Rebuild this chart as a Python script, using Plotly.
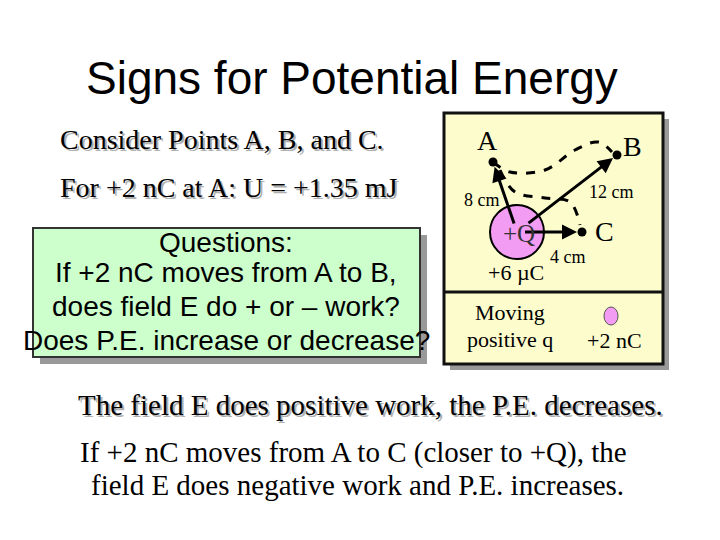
import plotly.graph_objects as go

title = "Signs for Potential Energy"
left_lines = ["Consider Points A, B, and C.", "For +2 nC at A: U = +1.35 mJ"]
question_lines = ["Questions:", "If +2 nC moves from A to B,", "does field E do + or \u2013 work?", "Does P.E. increase or decrease?"]
bottom_lines = ["The field E does positive work, the P.E. decreases.",
                "If +2 nC moves from A to C (closer to +Q), the",
                "field E does negative work and P.E. increases."]
point_names = ["A", "B", "C"]
dist_labels = ["8 cm", "12 cm", "4 cm"]
charge_label = "+6 \u00b5C"

fig = go.Figure()
shapes = []
ann = []
TNR = "Liberation Serif"
AR = "Liberation Sans"
K = 1.27

def rect(x0, y0, x1, y1, fill, line="#222", w=2):
    shapes.append(dict(type="rect", xref="x", yref="y", x0=x0, y0=y0, x1=x1, y1=y1,
                       fillcolor=fill, line=dict(color=line, width=w), layer="below"))

def text(x, y, s, size, font=TNR, anchor="center", color="black", shadow=False):
    size = round(size * K)
    if shadow:
        ann.append(dict(x=x+2, y=y+2, text=s, showarrow=False, xanchor=anchor, yanchor="middle",
                        font=dict(family=font, size=size, color="#b0b0b0")))
    ann.append(dict(x=x, y=y, text=s, showarrow=False, xanchor=anchor, yanchor="middle",
                    font=dict(family=font, size=size, color=color)))

text(352, 78, title, 36, AR)
text(58, 139, left_lines[0], 22, anchor="left", shadow=True)
text(58, 187, left_lines[1], 22, anchor="left", shadow=True)

rect(40, 235, 427, 364, "#999999", line="#999999", w=0)
rect(33, 228, 420, 357, "#ccffcc", line="#333333")
for yy, s in zip([242, 272, 306, 340], question_lines):
    text(226, yy, s, 22, AR)

rect(450, 119, 669, 370, "#999999", line="#999999", w=0)
rect(444, 113, 663, 364, "#fcfccc", line="#111111", w=3)
shapes.append(dict(type="line", xref="x", yref="y", x0=444, x1=663, y0=292, y1=292,
                   line=dict(color="#111", width=3)))

fig.add_trace(go.Scatter(x=[493, 510, 545, 575, 598, 612], y=[162, 172, 170, 150, 142, 152],
                         mode="lines", line=dict(color="black", width=3, dash="dash", shape="spline"),
                         hoverinfo="skip"))
fig.add_trace(go.Scatter(x=[500, 515, 545, 570, 580], y=[170, 192, 198, 202, 225],
                         mode="lines", line=dict(color="black", width=3, dash="dash", shape="spline"),
                         hoverinfo="skip"))

shapes.append(dict(type="circle", xref="x", yref="y", x0=490, x1=544, y0=205, y1=259,
                   fillcolor="#f39cf3", line=dict(color="black", width=2)))
shapes.append(dict(type="circle", xref="x", yref="y", x0=604, x1=618, y0=307, y1=325,
                   fillcolor="#f39cf3", line=dict(color="#555", width=1)))

Q = (517, 232)
pts = [(493, 162), (617, 155), (582, 232)]
for (px, py) in pts:
    ann.append(dict(x=px, y=py, ax=Q[0] + (px - Q[0]) * 0.1, ay=Q[1] + (py - Q[1]) * 0.1,
                    axref="x", ayref="y", xref="x", yref="y", text="", showarrow=True,
                    arrowhead=2, arrowsize=1, arrowwidth=3, arrowcolor="black", standoff=5))
fig.add_trace(go.Scatter(x=[p[0] for p in pts], y=[p[1] for p in pts], mode="markers",
                         marker=dict(color="black", size=9), hoverinfo="skip"))

text(487, 140, point_names[0], 22)
text(632, 146, point_names[1], 22)
text(604, 231, point_names[2], 22)
text(482, 200, dist_labels[0], 14)
text(611, 192, dist_labels[1], 14)
text(568, 257, dist_labels[2], 14)
text(519, 233, "+Q", 20, color="#333")
text(516, 272, charge_label, 17)
text(510, 312, "Moving", 17)
text(510, 339, "positive q", 17)
text(614, 340, "+2 nC", 17)

text(370, 405, bottom_lines[0], 23, shadow=True)
text(353, 452, bottom_lines[1], 23)
text(357, 485, bottom_lines[2], 23)

fig.update_layout(width=720, height=540, margin=dict(l=0, r=0, t=0, b=0),
                  plot_bgcolor="white", paper_bgcolor="white", showlegend=False,
                  shapes=shapes, annotations=ann,
                  xaxis=dict(range=[8, 728], visible=False, fixedrange=True),
                  yaxis=dict(range=[548, 8], visible=False, fixedrange=True))
fig.write_html("out.html", config={"displayModeBar": False})
